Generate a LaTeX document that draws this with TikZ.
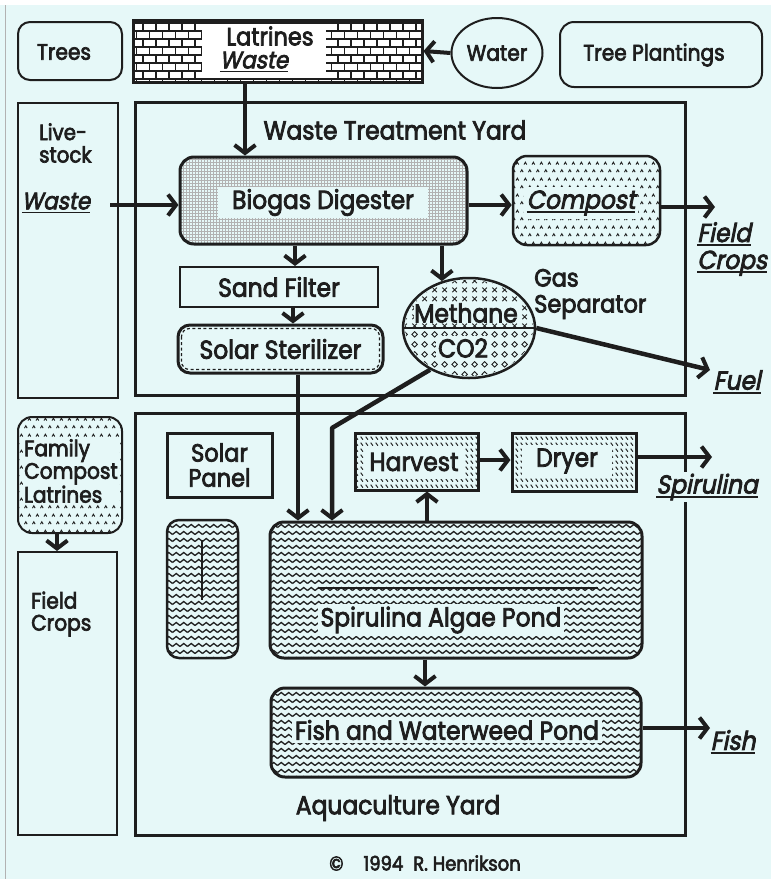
\documentclass[tikz,border=0pt]{standalone}
\usepackage{fontspec}
\setmainfont{Poppins}[FakeStretch=0.9,FakeBold=3]
\newfontfamily\itf{Poppins}[FakeStretch=0.9,FakeSlant=0.2,FakeBold=3]
\usetikzlibrary{arrows.meta,patterns,shapes.geometric}
\definecolor{bg}{RGB}{230,248,248}
\definecolor{ink}{RGB}{30,30,30}
\newcommand\myul[1]{\setbox0\hbox{#1}\rlap{\rule[-4pt]{\wd0}{1.8pt}}\box0}
\pgfdeclarepatternformonly{mybricks}{\pgfqpoint{-1pt}{-1pt}}{\pgfqpoint{27pt}{17pt}}{\pgfqpoint{26pt}{16pt}}{%
 \pgfsetlinewidth{1.1pt}%
 \pgfpathmoveto{\pgfqpoint{0pt}{0pt}}\pgfpathlineto{\pgfqpoint{26pt}{0pt}}%
 \pgfpathmoveto{\pgfqpoint{0pt}{8pt}}\pgfpathlineto{\pgfqpoint{26pt}{8pt}}%
 \pgfpathmoveto{\pgfqpoint{0pt}{0pt}}\pgfpathlineto{\pgfqpoint{0pt}{8pt}}%
 \pgfpathmoveto{\pgfqpoint{13pt}{0pt}}\pgfpathlineto{\pgfqpoint{13pt}{8pt}}%
 \pgfpathmoveto{\pgfqpoint{6.5pt}{8pt}}\pgfpathlineto{\pgfqpoint{6.5pt}{16pt}}%
 \pgfpathmoveto{\pgfqpoint{19.5pt}{8pt}}\pgfpathlineto{\pgfqpoint{19.5pt}{16pt}}%
 \pgfusepath{stroke}}
\pgfdeclarepatternformonly{mygrid}{\pgfqpoint{-0.5pt}{-0.5pt}}{\pgfqpoint{3.5pt}{3.5pt}}{\pgfqpoint{3pt}{3pt}}{%
 \pgfsetlinewidth{0.7pt}%
 \pgfpathmoveto{\pgfqpoint{0pt}{0pt}}\pgfpathlineto{\pgfqpoint{3pt}{0pt}}%
 \pgfpathmoveto{\pgfqpoint{0pt}{0pt}}\pgfpathlineto{\pgfqpoint{0pt}{3pt}}%
 \pgfusepath{stroke}}
\pgfdeclarepatternformonly{carets}{\pgfqpoint{0pt}{0pt}}{\pgfqpoint{8pt}{16pt}}{\pgfqpoint{8pt}{16pt}}{%
 \pgfsetlinewidth{1pt}%
 \pgfpathmoveto{\pgfqpoint{0.5pt}{3pt}}\pgfpathlineto{\pgfqpoint{2pt}{5.5pt}}\pgfpathlineto{\pgfqpoint{3.5pt}{3pt}}%
 \pgfpathmoveto{\pgfqpoint{4.5pt}{11pt}}\pgfpathlineto{\pgfqpoint{6pt}{13.5pt}}\pgfpathlineto{\pgfqpoint{7.5pt}{11pt}}%
 \pgfusepath{stroke}}
\pgfdeclarepatternformonly{zigzag}{\pgfqpoint{-0.7pt}{-0.7pt}}{\pgfqpoint{8.2pt}{7.7pt}}{\pgfqpoint{7.5pt}{7pt}}{%
 \pgfsetlinewidth{1.3pt}%
 \pgfpathmoveto{\pgfqpoint{0pt}{1.5pt}}\pgfpathlineto{\pgfqpoint{3.75pt}{4.5pt}}\pgfpathlineto{\pgfqpoint{7.5pt}{1.5pt}}%
 \pgfusepath{stroke}}
\pgfdeclarepatternformonly{hatch}{\pgfqpoint{0pt}{0pt}}{\pgfqpoint{5pt}{6pt}}{\pgfqpoint{5pt}{6pt}}{%
 \pgfsetlinewidth{1.1pt}%
 \pgfpathmoveto{\pgfqpoint{0.8pt}{5pt}}\pgfpathlineto{\pgfqpoint{3.5pt}{1.5pt}}%
 \pgfusepath{stroke}}
\pgfdeclarepatternformonly{xmarks}{\pgfqpoint{0pt}{0pt}}{\pgfqpoint{10pt}{9pt}}{\pgfqpoint{10pt}{9pt}}{%
 \pgfsetlinewidth{0.9pt}%
 \pgfpathmoveto{\pgfqpoint{2.5pt}{2pt}}\pgfpathlineto{\pgfqpoint{7.5pt}{7pt}}%
 \pgfpathmoveto{\pgfqpoint{2.5pt}{7pt}}\pgfpathlineto{\pgfqpoint{7.5pt}{2pt}}%
 \pgfusepath{stroke}}
\pgfdeclarepatternformonly{diamonds}{\pgfqpoint{0pt}{0pt}}{\pgfqpoint{10pt}{10pt}}{\pgfqpoint{10pt}{10pt}}{%
 \pgfsetlinewidth{0.9pt}%
 \pgfpathmoveto{\pgfqpoint{5pt}{2pt}}\pgfpathlineto{\pgfqpoint{8pt}{5pt}}\pgfpathlineto{\pgfqpoint{5pt}{8pt}}\pgfpathlineto{\pgfqpoint{2pt}{5pt}}\pgfpathclose%
 \pgfusepath{stroke}}
\tikzset{
 every node/.style={font=\fontsize{26}{28}\selectfont, text=ink, inner sep=1pt},
 small/.style={font=\fontsize{22.4}{24}\selectfont},
 bx/.style={draw=ink, line width=2pt, inner sep=0pt},
 bxt/.style={draw=ink, line width=3pt, inner sep=0pt},
 ital/.style={font=\itf\fontsize{26}{27}\selectfont},
 itals/.style={font=\itf\fontsize{24}{27}\selectfont},
 arr/.style={draw=ink, line width=4pt, line join=round, -{Straight Barb[length=8pt,width=21pt,line width=4pt]}},
}
\begin{document}
\begin{tikzpicture}[x=1pt,y=-1pt]
\useasboundingbox (0,0) rectangle (771,879);
\fill[bg] (0,0) rectangle (771,879);
\fill[white] (0,0) rectangle (771,5);
\draw[gray!60, line width=0.6pt] (5,5) -- (5,879);

% coordinates for connector columns
\coordinate (x245) at (245,0);
\coordinate (x293) at (293,0);
\coordinate (x295) at (295,0);
\coordinate (x298) at (298,0);
\coordinate (x425) at (425,0);
\coordinate (x427) at (427,0);
\coordinate (x57) at (57,0);
\coordinate (y205) at (0,205);
\coordinate (y460) at (0,460);

% top row
\node[bx, rounded corners=12pt, minimum width=104pt, minimum height=58pt] (trees) at (70,51) {};
\node[small] (treesT) at (64,52) {Trees};
\node[bxt, minimum width=289pt, minimum height=62pt, preaction={fill=white}, pattern=mybricks, pattern color=ink] (lat) at (277.5,51) {};
\node[fill=white, minimum width=124pt, minimum height=54pt] (latclr) at (264,51) {};
\node[font=\fontsize{25}{27}\selectfont, inner sep=0pt] (latT) at (270,36) {Latrines};
\node[itals, inner sep=0pt] (latW) at (254,62) {\myul{Waste}};
\node[bx, ellipse, minimum width=91pt, minimum height=70pt, small] (water) at (497,53) {Water};
\node[bx, rounded corners=14pt, minimum width=202pt, minimum height=65pt] (plant) at (661,54.5) {};
\node[small] (plantT) at (654,55) {Tree Plantings};

% livestock
\node[bx, minimum width=100pt, minimum height=295pt] (live) at (68,250.5) {};
\node[align=left, anchor=west, font=\fontsize{22}{22.5}\selectfont] (liveT) at (38,143) {Live-\\stock};
\node[itals] (liveW) at (56,203) {\myul{Waste}};
\coordinate (lw) at (110,205);

% waste treatment yard
\node[bxt, minimum width=550pt, minimum height=293pt] (wty) at (410,248.5) {};
\node (wtyT) at (395,130) {Waste Treatment Yard};
\node[bxt, rounded corners=14pt, minimum width=287pt, minimum height=87pt, pattern=mygrid, pattern color=gray!60] (bio) at (323.5,200.5) {};
\node[fill=bg, minimum width=210pt, minimum height=31pt] (bioT) at (323,202.5) {Biogas Digester};
\node[bx, line width=2.5pt, rounded corners=14pt, minimum width=147pt, minimum height=89pt, pattern=carets, pattern color=ink] (comp) at (586.5,200.5) {};
\node[ital, fill=bg, inner sep=3pt] (compT) at (581,203) {\myul{Compost}};
\node[ital, anchor=west, align=left] (fcT) at (696,249) {\myul{Field}\\\myul{Crops}};
\coordinate (fcP) at (715,207);
\node[bx, minimum width=198pt, minimum height=40pt] (sand) at (279,287) {Sand Filter};
\node[bxt, rounded corners=12pt, minimum width=205pt, minimum height=48pt] (ster) at (280.5,349) {Solar Sterilizer};
\draw[ink, line width=1.2pt, dash pattern=on 3pt off 2.5pt, rounded corners=8pt] ([shift={(5,5)}]ster.north west) rectangle ([shift={(-5,-5)}]ster.south east);

% gas separator
\begin{scope}
 \clip (400,270) rectangle (540,328);
 \path[pattern=xmarks, pattern color=ink] (469,328) ellipse [x radius=64, y radius=48];
\end{scope}
\begin{scope}
 \clip (400,328) rectangle (540,385);
 \path[pattern=diamonds, pattern color=ink] (469,328) ellipse [x radius=64, y radius=48];
\end{scope}
\node[bx, line width=2.5pt, ellipse, minimum width=132pt, minimum height=100pt] (gas) at (469,328) {};
\draw[ink, line width=2pt] (gas.west) -- (gas.east);
\node[fill=bg, inner sep=0.5pt] (meth) at (466,313) {Methane};
\node[fill=bg, inner sep=2pt] (co2) at (463,348) {CO2};
\node[anchor=west, align=left, font=\fontsize{25}{26}\selectfont] (gasT) at (533,294) {Gas\\Separator};
\node[ital] (fuelT) at (737,382) {\myul{Fuel}};
\coordinate (fuelP) at (710,370);

% left column lower
\node[bx, rounded corners=14pt, minimum width=104pt, minimum height=116pt, pattern=carets, pattern color=ink] (fam) at (70,475) {};
\node[fill=bg, anchor=west, align=left, font=\fontsize{22.4}{21}\selectfont, inner sep=1pt] (famT) at (23,471) {Family\\Compost\\Latrines};
\node[bx, minimum width=99pt, minimum height=283pt] (fcr) at (67.5,693.5) {};
\node[anchor=west, align=left, font=\fontsize{22.4}{22}\selectfont] (fcrT) at (30,614) {Field\\Crops};

% aquaculture yard
\node[bxt, minimum width=550pt, minimum height=422pt] (aqy) at (410,624) {};
\node (aqyT) at (398,808) {Aquaculture Yard};
\node[bxt, minimum width=105pt, minimum height=64pt, align=center, font=\fontsize{25}{25}\selectfont] (sp) at (219.5,465) {Solar\\Panel};
\node[bx, line width=2.5pt, rounded corners=12pt, minimum width=71pt, minimum height=138pt, pattern=zigzag, pattern color=ink] (smp) at (202.5,589) {};
\draw[ink, line width=2pt] (202,540) -- (202,600);
\node[bxt, rounded corners=14pt, minimum width=372pt, minimum height=136pt, pattern=zigzag, pattern color=ink] (alg) at (456,590) {};
\draw[ink, line width=2pt] (318,588) -- (598,588);
\node[fill=bg, inner sep=3pt] (algT) at (441,620) {Spirulina Algae Pond};
\node[bxt, minimum width=123pt, minimum height=57pt, pattern=hatch, pattern color=ink] (harv) at (416.5,461.5) {};
\node[fill=bg, minimum width=100pt, minimum height=33pt] (harvT) at (414,462) {Harvest};
\node[bxt, minimum width=124pt, minimum height=58pt, pattern=hatch, pattern color=ink] (dry) at (574,462) {};
\node[fill=bg, minimum width=90pt, minimum height=33pt] (dryT) at (567,461) {Dryer};
\node[ital, fill=bg, inner sep=2pt] (spT) at (707,487) {\myul{Spirulina}};
\coordinate (spP) at (712,457);
\node[bxt, rounded corners=14pt, minimum width=370pt, minimum height=89pt, pattern=zigzag, pattern color=ink] (fish) at (456,732.5) {};
\node[fill=bg, inner sep=3pt] (fishT) at (447,730) {Fish and Waterweed Pond};
\node[ital] (fishL) at (733,742) {\myul{Fish}};
\coordinate (fishP) at (710,728);
\coordinate (bend) at (332,428);

\node[font=\fontsize{20}{22}\selectfont] (copy) at (425,863) {©\quad 1994\enspace R. Henrikson};

% connectors
\draw[arr] (water.west) -- (lat.east);
\draw[arr] (lat.south -| x245) -- (bio.north -| x245);
\draw[arr] (lw) -- (lw -| bio.west);
\draw[arr] (bio.east |- y205) -- (comp.west |- y205);
\draw[arr] (comp.east |- fcP) -- (fcP);
\draw[arr] (bio.south -| x295) -- (sand.north -| x295);
\draw[arr] (sand.south -| x293) -- (ster.north -| x293);
\draw[arr] (bio.south -| gas.120) -- (gas.120);
\draw[arr, line width=4.5pt] (gas.east) -- (fuelP);
\draw[arr] (ster.south -| x298) -- (alg.north -| x298);
\draw[arr, line width=4.5pt] (gas.227) -- (bend) -- (alg.north -| bend);
\draw[arr] (alg.north -| x427) -- (harv.south -| x427);
\draw[arr] (harv.east |- y460) -- (dry.west |- y460);
\draw[arr] (dry.east |- spP) -- (spP);
\draw[arr] (alg.south -| x425) -- (fish.north -| x425);
\draw[arr] (fish.east |- fishP) -- (fishP);
\draw[arr] (fam.south -| x57) -- (fcr.north -| x57);
\end{tikzpicture}
\end{document}
